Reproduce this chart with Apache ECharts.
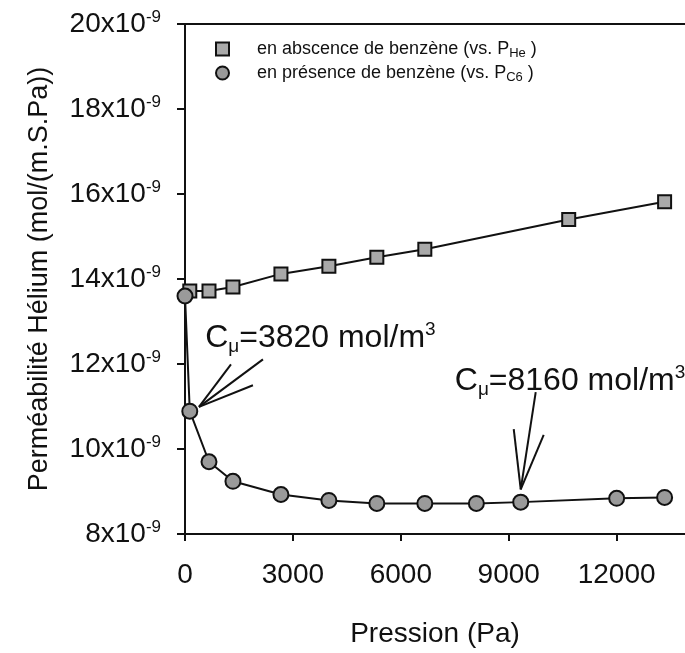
<!DOCTYPE html>
<html><head><meta charset="utf-8">
<script src="https://cdn.jsdelivr.net/npm/echarts@6/dist/echarts.min.js"></script>
<style>html,body{margin:0;padding:0;background:#fff}#c{width:685px;height:653px}</style>
</head><body><div id="c"></div>
<script>
// Pression (Pa) and permeability (in units of 1e-9 mol/(m.S.Pa))
const pressureHe = [133, 667, 1333, 2667, 4000, 5333, 6667, 10667, 13333];
const permHe     = [13.72, 13.72, 13.81, 14.12, 14.30, 14.51, 14.70, 15.40, 15.82];
const pressureC6 = [0, 133, 667, 1333, 2667, 4000, 5333, 6667, 8100, 9333, 12000, 13333];
const permC6     = [13.60, 10.89, 9.70, 9.24, 8.93, 8.79, 8.72, 8.72, 8.72, 8.75, 8.84, 8.86];
const xTickValues = [0, 3000, 6000, 9000, 12000];
const yTickValues = [8, 10, 12, 14, 16, 18, 20];
const legendLabels = {
  abs:  ['en abscence de benzène (vs. P', 'He', ' )'],
  pres: ['en présence de benzène (vs. P', 'C6', ' )']
};
// annotations: text anchor (data coords) and arrow strokes (data coords)
const annot1Text = ['C', 'μ', '=3820 mol/m', '3'];
const annot1Pos = [560, 12.55];
const annot1Tip = [389, 10.99];
const annot1Ends = [[1278, 11.99], [2167, 12.11], [1889, 11.50]];
const annot2Text = ['C', 'μ', '=8160 mol/m', '3'];
const annot2Pos = [7500, 11.55];
const annot2Tip = [9333, 9.05];
const annot2Ends = [[9750, 11.34], [9139, 10.47], [9972, 10.33]];

const FONT = 'Liberation Sans, Arial, Helvetica, sans-serif';
const chart = echarts.init(document.getElementById('c'));

function zip(xs, ys){ return xs.map((x,i)=>[x, ys[i]]); }

const option = {
  animation: false,
  backgroundColor: '#fff',
  textStyle: { fontFamily: FONT },
  grid: { left: 185, top: 24, right: 0, bottom: 115, containLabel: false },
  legend: {
    orient: 'vertical', left: 210, top: 35, itemWidth: 13, itemHeight: 13, itemGap: 4,
    data: [{ name: 'abs', icon: 'rect' }, { name: 'pres', icon: 'circle' }],
    formatter: function(n){ const l = legendLabels[n]; return '{p|}{a|' + l[0] + '}{s|' + l[1] + '}{a|' + l[2] + '}'; },
    textStyle: {
      fontFamily: FONT, color: '#111',
      rich: {
        p: { width: 23 },
        a: { fontSize: 18, lineHeight: 22, fontFamily: FONT, color: '#111', verticalAlign: 'middle' },
        s: { fontSize: 13, lineHeight: 13, fontFamily: FONT, color: '#111', verticalAlign: 'bottom' }
      }
    }
  },
  xAxis: [{
    type: 'value', min: 0, max: 13900, interval: 3000, position: 'bottom',
    name: 'Pression (Pa)', nameLocation: 'middle', nameGap: 86,
    nameTextStyle: { fontSize: 28, color: '#111', fontFamily: FONT },
    axisLine: { onZero: false, lineStyle: { color: '#111', width: 2 } },
    axisTick: { show: true, length: 7, customValues: xTickValues, lineStyle: { color: '#111', width: 2 } },
    splitLine: { show: false },
    axisLabel: { margin: 27, fontSize: 28, color: '#111', fontFamily: FONT, customValues: xTickValues,
      formatter: v => xTickValues.indexOf(v) >= 0 ? String(v) : '' }
  }, {
    type: 'value', min: 0, max: 13900, interval: 3000, position: 'top',
    axisLine: { onZero: false, lineStyle: { color: '#111', width: 2 } },
    axisTick: { show: false }, axisLabel: { show: false }, splitLine: { show: false }
  }],
  yAxis: {
    type: 'value', min: 8, max: 20, interval: 2,
    name: 'Perméabilité Hélium (mol/(m.S.Pa))', nameLocation: 'middle', nameGap: 132,
    nameTextStyle: { fontSize: 27, color: '#111', fontFamily: FONT },
    axisLine: { onZero: false, lineStyle: { color: '#111', width: 2 } },
    axisTick: { show: true, length: 8, lineStyle: { color: '#111', width: 2 } },
    splitLine: { show: false },
    axisLabel: { margin: 24, color: '#111', fontFamily: FONT,
      formatter: v => yTickValues.indexOf(v) >= 0 ? '{m|' + v + 'x10}{s|-9}' : '',
      rich: {
        m: { fontSize: 28, lineHeight: 30, fontFamily: FONT, color: '#111', verticalAlign: 'middle' },
        s: { fontSize: 17, lineHeight: 17, fontFamily: FONT, color: '#111', verticalAlign: 'top' }
      }
    }
  },
  series: [{
    name: 'abs', type: 'line', data: zip(pressureHe, permHe),
    symbol: 'rect', symbolSize: 13, z: 3,
    lineStyle: { color: '#111', width: 2 },
    itemStyle: { color: '#a9a9a9', borderColor: '#111', borderWidth: 2 }
  }, {
    name: 'pres', type: 'line', data: zip(pressureC6, permC6),
    symbol: 'circle', symbolSize: 15, z: 4,
    lineStyle: { color: '#111', width: 2 },
    itemStyle: { color: '#9a9a9a', borderColor: '#111', borderWidth: 2 }
  }]
};
chart.setOption(option);

function toPx(p){ return chart.convertToPixel({ xAxisIndex: 0, yAxisIndex: 0 }, p); }
function annotText(parts, pos){
  const p = toPx(pos);
  return {
    type: 'text', left: p[0], top: p[1] - 20, z: 10,
    style: {
      text: '{m|' + parts[0] + '}{b|' + parts[1] + '}{m|' + parts[2] + '}{t|' + parts[3] + '}',
      rich: {
        m: { fontSize: 32, lineHeight: 36, fontFamily: FONT, fill: '#111', verticalAlign: 'middle' },
        b: { fontSize: 19, lineHeight: 19, fontFamily: FONT, fill: '#111', verticalAlign: 'bottom' },
        t: { fontSize: 19, lineHeight: 19, fontFamily: FONT, fill: '#111', verticalAlign: 'top' }
      }
    }
  };
}
function arrowLines(tip, ends){
  const t = toPx(tip);
  return ends.map(e => { const q = toPx(e); return {
    type: 'line', z: 10, shape: { x1: t[0], y1: t[1], x2: q[0], y2: q[1] },
    style: { stroke: '#111', lineWidth: 2 } }; });
}
chart.setOption({ graphic: [
  annotText(annot1Text, annot1Pos), annotText(annot2Text, annot2Pos)
].concat(arrowLines(annot1Tip, annot1Ends), arrowLines(annot2Tip, annot2Ends)) });
</script>
</body></html>
